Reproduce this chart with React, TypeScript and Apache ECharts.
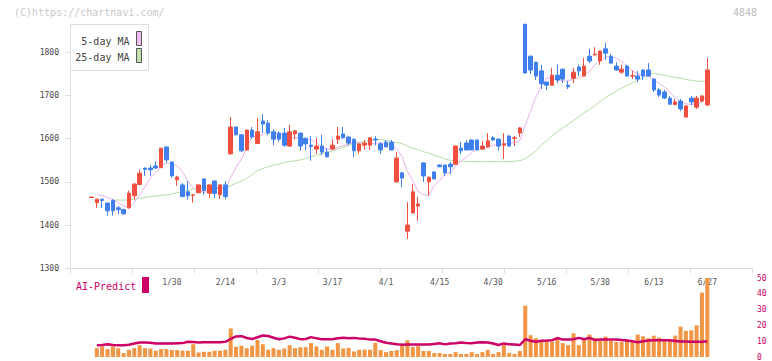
import React, { useEffect, useRef } from 'react';
import * as echarts from 'echarts';

// ---- data ----
const dateLabels = ['1/30', '2/14', '3/3', '3/17', '4/1', '4/15', '4/30', '5/16', '5/30', '6/13', '6/27'];
const firstLabelIndex = 15;
const labelStep = 10;
const priceTicks = [1300, 1400, 1500, 1600, 1700, 1800];
const volumeTicks = [0, 10, 20, 30, 40, 50];

const opens = [
  1464, 1452, 1460, 1451, 1457, 1440, 1436, 1440, 1468, 1494,
  1532, 1532, 1537, 1533, 1581, 1546, 1505, 1493, 1477, 1469,
  1475, 1507, 1474, 1502, 1470, 1493, 1565, 1627, 1609, 1574,
  1620, 1589, 1641, 1636, 1616, 1613, 1613, 1583, 1611, 1613,
  1601, 1585, 1576, 1583, 1569, 1576, 1599, 1611, 1604, 1599,
  1572, 1585, 1585, 1599, 1588, 1592, 1592, 1500, 1521, 1386,
  1428, 1444, 1544, 1500, 1523, 1539, 1539, 1541, 1541, 1578,
  1590, 1597, 1597, 1576, 1581, 1602, 1599, 1585, 1606, 1601,
  1613, 1865, 1791, 1777, 1757, 1731, 1724, 1747, 1761, 1724,
  1740, 1766, 1745, 1791, 1794, 1780, 1808, 1791, 1768, 1754,
  1768, 1745, 1745, 1759, 1759, 1738, 1713, 1708, 1694, 1679,
  1687, 1650, 1694, 1673, 1687, 1678,
];
const closes = [
  1465, 1460, 1457, 1433, 1433, 1436, 1426, 1474, 1495, 1520,
  1529, 1528, 1532, 1578, 1551, 1514, 1511, 1466, 1468, 1470,
  1493, 1480, 1493, 1473, 1493, 1466, 1627, 1609, 1572, 1620,
  1604, 1616, 1634, 1613, 1599, 1599, 1585, 1616, 1618, 1583,
  1588, 1582, 1583, 1569, 1558, 1585, 1606, 1602, 1590, 1572,
  1588, 1590, 1602, 1597, 1574, 1581, 1574, 1555, 1509, 1400,
  1477, 1449, 1514, 1511, 1507, 1535, 1521, 1535, 1583, 1572,
  1574, 1574, 1574, 1583, 1595, 1597, 1583, 1588, 1583, 1602,
  1625, 1752, 1759, 1745, 1727, 1724, 1747, 1736, 1738, 1720,
  1754, 1757, 1768, 1780, 1796, 1803, 1798, 1775, 1759, 1761,
  1745, 1746, 1738, 1745, 1745, 1713, 1701, 1694, 1680, 1685,
  1669, 1676, 1685, 1694, 1699, 1759,
];
const lows = [
  1464, 1440, 1440, 1422, 1422, 1425, 1424, 1438, 1459, 1493,
  1514, 1514, 1530, 1532, 1545, 1510, 1491, 1465, 1459, 1452,
  1474, 1470, 1463, 1463, 1461, 1460, 1563, 1608, 1569, 1573,
  1599, 1588, 1613, 1608, 1585, 1593, 1581, 1581, 1597, 1572,
  1574, 1549, 1565, 1562, 1557, 1575, 1588, 1600, 1585, 1558,
  1565, 1574, 1574, 1585, 1565, 1580, 1573, 1499, 1488, 1368,
  1427, 1410, 1500, 1467, 1506, 1534, 1514, 1518, 1539, 1565,
  1573, 1573, 1573, 1574, 1580, 1596, 1572, 1553, 1582, 1583,
  1604, 1752, 1750, 1736, 1715, 1713, 1723, 1729, 1729, 1715,
  1729, 1745, 1744, 1775, 1793, 1771, 1782, 1774, 1757, 1750,
  1744, 1738, 1731, 1736, 1744, 1708, 1697, 1692, 1678, 1678,
  1664, 1650, 1678, 1669, 1685, 1676,
];
const highs = [
  1465, 1461, 1461, 1452, 1460, 1444, 1438, 1480, 1497, 1528,
  1533, 1539, 1548, 1579, 1582, 1547, 1514, 1497, 1502, 1471,
  1494, 1508, 1494, 1503, 1494, 1502, 1650, 1628, 1610, 1621,
  1627, 1648, 1657, 1643, 1622, 1617, 1625, 1632, 1620, 1614,
  1602, 1606, 1602, 1609, 1578, 1599, 1627, 1627, 1605, 1600,
  1589, 1597, 1603, 1606, 1592, 1597, 1597, 1569, 1522, 1453,
  1495, 1465, 1545, 1512, 1525, 1541, 1540, 1546, 1584, 1592,
  1597, 1598, 1598, 1595, 1613, 1606, 1601, 1613, 1609, 1606,
  1627, 1865, 1792, 1778, 1771, 1732, 1764, 1771, 1762, 1734,
  1764, 1771, 1787, 1808, 1812, 1804, 1822, 1796, 1777, 1771,
  1771, 1757, 1757, 1760, 1775, 1739, 1717, 1713, 1699, 1692,
  1692, 1676, 1699, 1699, 1701, 1787,
];
const ma5 = [
  null, 1471, 1468, 1464, 1459, 1452, 1444, 1440, 1453, 1470,
  1489, 1509, 1521, 1537, 1544, 1541, 1537, 1524, 1502, 1486,
  1482, 1475, 1481, 1482, 1486, 1481, 1510, 1534, 1553, 1579,
  1606, 1604, 1609, 1617, 1613, 1612, 1606, 1602, 1603, 1600,
  1598, 1597, 1591, 1581, 1576, 1575, 1580, 1584, 1588, 1591,
  1592, 1588, 1588, 1590, 1590, 1589, 1586, 1576, 1559, 1524,
  1503, 1478, 1470, 1470, 1492, 1503, 1518, 1522, 1536, 1549,
  1557, 1568, 1575, 1575, 1580, 1585, 1586, 1589, 1589, 1591,
  1596, 1630, 1664, 1697, 1722, 1741, 1740, 1736, 1734, 1733,
  1739, 1741, 1747, 1756, 1771, 1781, 1789, 1790, 1786, 1779,
  1768, 1757, 1750, 1747, 1744, 1737, 1728, 1720, 1707, 1695,
  1686, 1681, 1679, 1682, 1685, 1703,
];
const ma25 = [
  null, null, null, null, 1458, 1458, 1458, 1458, 1460, 1462,
  1464, 1466, 1467, 1469, 1470, 1472, 1475, 1477, 1480, 1483,
  1485, 1486, 1487, 1487, 1487, 1487, 1491, 1497, 1502, 1508,
  1517, 1526, 1531, 1535, 1539, 1541, 1545, 1547, 1549, 1551,
  1554, 1558, 1562, 1565, 1568, 1572, 1576, 1580, 1584, 1588,
  1591, 1594, 1596, 1598, 1598, 1596, 1593, 1591, 1589, 1583,
  1578, 1574, 1570, 1566, 1562, 1558, 1553, 1550, 1548, 1548,
  1547, 1547, 1547, 1547, 1547, 1547, 1547, 1547, 1547, 1548,
  1549, 1554, 1562, 1572, 1585, 1595, 1607, 1616, 1625, 1633,
  1642, 1651, 1660, 1668, 1677, 1686, 1695, 1703, 1710, 1717,
  1723, 1729, 1735, 1742, 1748, 1751, 1749, 1747, 1744, 1742,
  1740, 1737, 1735, 1733, 1733, 1733,
];
const volume = [
  null, 5.6, 6.7, 5.0, 6.7, 5.6, 2.5, 4.6, 5.6, 7.5,
  5.6, 5.4, 4.0, 5.0, 5.0, 4.6, 4.4, 4.0, 4.0, 8.1,
  2.9, 3.3, 3.3, 4.0, 4.0, 4.6, 18.1, 6.5, 7.1, 5.6,
  7.1, 10.8, 8.1, 4.6, 5.6, 4.6, 5.4, 7.5, 5.6, 6.2,
  6.2, 8.8, 6.7, 4.6, 6.7, 4.6, 8.8, 5.4, 5.8, 3.5,
  4.6, 4.6, 4.6, 9.0, 4.4, 3.1, 3.8, 4.4, 6.9, 10.6,
  6.3, 6.9, 3.8, 3.8, 2.5, 2.5, 1.9, 1.9, 3.1, 1.9,
  1.9, 3.1, 1.9, 3.1, 4.4, 1.9, 3.1, 8.1, 2.5, 1.9,
  3.8, 32.5, 13.8, 11.9, 10.2, 10.2, 9.6, 11.3, 8.8, 7.5,
  15.0, 7.5, 11.3, 14.2, 11.9, 10.2, 12.9, 10.2, 9.6, 9.6,
  10.2, 9.6, 14.2, 13.1, 11.9, 13.5, 12.3, 10.2, 10.2, 13.5,
  19.2, 16.5, 16.9, 20.0, 40.8, 50.0,
];
const aiPredict = [
  null, 7.5, 7.6, 8.1, 7.6, 7.5, 7.5, 7.8, 8.6, 9.2,
  9.2, 9.0, 8.5, 8.5, 8.5, 8.6, 8.7, 8.8, 9.6, 9.5,
  9.2, 9.4, 9.4, 9.4, 9.4, 9.6, 11.4, 13.0, 13.2, 12.0,
  11.4, 12.5, 13.6, 13.3, 12.2, 11.2, 11.8, 12.9, 12.2, 11.3,
  11.4, 12.6, 11.8, 11.3, 11.3, 11.3, 11.8, 12.2, 11.8, 12.1,
  11.7, 11.6, 11.0, 11.0, 10.0, 9.0, 8.5, 8.0, 7.7, 7.9,
  7.9, 7.9, 7.9, 7.9, 8.3, 8.7, 8.0, 8.6, 8.7, 9.2,
  8.9, 8.7, 9.2, 9.4, 9.2, 8.5, 7.6, 8.6, 8.0, 7.9,
  7.6, 11.2, 10.3, 9.7, 10.3, 10.4, 10.6, 12.0, 11.0, 11.0,
  11.25, 12.1, 11.25, 12.1, 10.8, 11.0, 11.0, 11.0, 11.0, 10.8,
  10.5, 10.0, 9.3, 10.0, 10.4, 10.6, 10.6, 10.6, 10.6, 10.2,
  9.8, 9.8, 9.6, 9.6, 9.6, 10.0,
];

// ---- styles / layout ----
const FONT = '"DejaVu Sans Mono", "Liberation Mono", monospace';
const RED = '#f04f3f';
const BLUE = '#3f7fee';
const ORANGE = '#f29645';
const CRIMSON = '#cc0066';
const MA5_COLOR = '#e8b2ea';
const MA25_COLOR = '#b6dca4';
const AXIS_COLOR = '#dddddd';

const PLOT_L = 70;
const PLOT_R = 752;
const BOTTOM_Y = 268.3;
const PRICE_MIN = 1300;
const PRICE_MAX = 1865;
const PX_PER_UNIT = 0.432;
const MAIN_TOP = BOTTOM_Y - (PRICE_MAX - PRICE_MIN) * PX_PER_UNIT;
const CANDLE_L = 88.8;
const CANDLE_W = 621.2;
const W = 772;
const H = 361;

export default function App() {
  const ref = useRef<HTMLDivElement>(null);

  useEffect(() => {
    if (!ref.current) return;
    const chart = echarts.init(ref.current, null, { renderer: 'svg' });

    const categories = opens.map((_, i) => {
      const j = i - firstLabelIndex;
      if (j >= 0 && j % labelStep === 0) return dateLabels[j / labelStep] ?? '';
      return '';
    });
    const candleData = opens.map((o, i) => [o, closes[i], lows[i], highs[i]]);
    const mainHeight = BOTTOM_Y - MAIN_TOP;

    const option: any = {
      animation: false,
      backgroundColor: '#ffffff',
      grid: [
        { left: PLOT_L, width: PLOT_R - PLOT_L, top: MAIN_TOP, height: mainHeight },
        { left: CANDLE_L, width: CANDLE_W, top: MAIN_TOP, height: mainHeight },
        { left: CANDLE_L, width: CANDLE_W, top: 278, height: 80 },
      ],
      xAxis: [
        {
          type: 'value', gridIndex: 0, min: 0, max: 11, interval: 1,
          axisLine: { show: true, lineStyle: { color: AXIS_COLOR, width: 1 } },
          axisTick: { show: true, length: 5, lineStyle: { color: AXIS_COLOR } },
          axisLabel: { show: false },
          splitLine: { show: false },
        },
        {
          type: 'category', gridIndex: 1, data: categories, boundaryGap: true,
          axisLine: { show: false }, axisTick: { show: false },
          axisLabel: {
            show: true, interval: 0, margin: 10, color: '#555555',
            fontFamily: FONT, fontSize: 8,
          },
          splitLine: { show: false },
        },
        {
          type: 'category', gridIndex: 2, data: categories, boundaryGap: true,
          axisLine: { show: false }, axisTick: { show: false }, axisLabel: { show: false },
          splitLine: { show: false },
        },
      ],
      yAxis: [
        {
          type: 'value', gridIndex: 0, min: PRICE_MIN, max: PRICE_MAX, interval: 100,
          axisLine: { show: true, lineStyle: { color: AXIS_COLOR, width: 1 } },
          axisTick: { show: true, length: 5, lineStyle: { color: AXIS_COLOR }, customValues: priceTicks },
          axisLabel: {
            show: true, margin: 11, color: '#444444', fontFamily: FONT, fontSize: 8,
            customValues: priceTicks,
            formatter: (v: number) => (v % 100 === 0 ? String(v) : ''),
          },
          splitLine: { show: false },
        },
        {
          type: 'value', gridIndex: 1, min: PRICE_MIN, max: PRICE_MAX, show: false,
          splitLine: { show: false },
        },
        {
          type: 'value', gridIndex: 2, min: 0, max: 50, interval: 10, position: 'right',
          offset: PLOT_R - (CANDLE_L + CANDLE_W),
          axisLine: { show: false }, axisTick: { show: false },
          axisLabel: {
            show: true, margin: 5, color: CRIMSON, fontFamily: FONT, fontSize: 8,
            customValues: volumeTicks,
          },
          splitLine: { show: false },
        },
      ],
      series: [
        {
          name: '25-day MA', type: 'line', xAxisIndex: 1, yAxisIndex: 1, data: ma25,
          symbol: 'none', lineStyle: { color: MA25_COLOR, width: 1 }, z: 2,
        },
        {
          name: '5-day MA', type: 'line', xAxisIndex: 1, yAxisIndex: 1, data: ma5,
          symbol: 'none', lineStyle: { color: MA5_COLOR, width: 1 }, z: 2,
        },
        {
          name: 'price', type: 'candlestick', xAxisIndex: 1, yAxisIndex: 1, data: candleData,
          barWidth: 4, z: 3,
          itemStyle: {
            color: RED, color0: BLUE, borderColor: RED, borderColor0: BLUE, borderWidth: 1,
          },
        },
        {
          name: 'volume', type: 'bar', xAxisIndex: 2, yAxisIndex: 2, data: volume,
          barWidth: 4, itemStyle: { color: ORANGE },
        },
        {
          name: 'AI-Predict', type: 'line', xAxisIndex: 2, yAxisIndex: 2, data: aiPredict,
          symbol: 'none', lineStyle: { color: CRIMSON, width: 2.5 }, z: 4,
        },
      ],
      graphic: [
        {
          type: 'text', x: 14, y: 12, z: 100,
          style: { text: '(C)https://chartnavi.com/', fill: '#c8c8c8', font: `10px ${FONT}`, textVerticalAlign: 'middle' },
        },
        {
          type: 'text', x: 757, y: 12, z: 100,
          style: { text: '4848', fill: '#bbbbbb', font: `10px ${FONT}`, textAlign: 'right', textVerticalAlign: 'middle' },
        },
        {
          type: 'rect', z: 100, shape: { x: 70.5, y: 24.5, width: 78, height: 46 },
          style: { fill: '#ffffff', stroke: '#dddddd', lineWidth: 1 },
        },
        {
          type: 'text', x: 129.5, y: 41, z: 101,
          style: { text: '5-day MA', fill: '#444444', font: `10px ${FONT}`, textAlign: 'right', textVerticalAlign: 'middle' },
        },
        {
          type: 'text', x: 129.5, y: 57, z: 101,
          style: { text: '25-day MA', fill: '#444444', font: `10px ${FONT}`, textAlign: 'right', textVerticalAlign: 'middle' },
        },
        {
          type: 'rect', z: 101, shape: { x: 136.5, y: 31.5, width: 5, height: 14 },
          style: { fill: '#f0bdf0', stroke: '#555555', lineWidth: 1 },
        },
        {
          type: 'rect', z: 101, shape: { x: 136.5, y: 48.5, width: 5, height: 14 },
          style: { fill: '#c2e2b0', stroke: '#555555', lineWidth: 1 },
        },
        {
          type: 'text', x: 76, y: 286, z: 101,
          style: { text: 'AI-Predict', fill: CRIMSON, font: `10px ${FONT}`, textVerticalAlign: 'middle' },
        },
        {
          type: 'rect', z: 101, shape: { x: 142, y: 277, width: 7, height: 16 },
          style: { fill: CRIMSON },
        },
      ],
    };

    chart.setOption(option);
    return () => chart.dispose();
  }, []);

  return (
    <div
      ref={ref}
      style={{ position: 'fixed', left: 0, top: 0, width: W, height: H, background: '#fff' }}
    />
  );
}
